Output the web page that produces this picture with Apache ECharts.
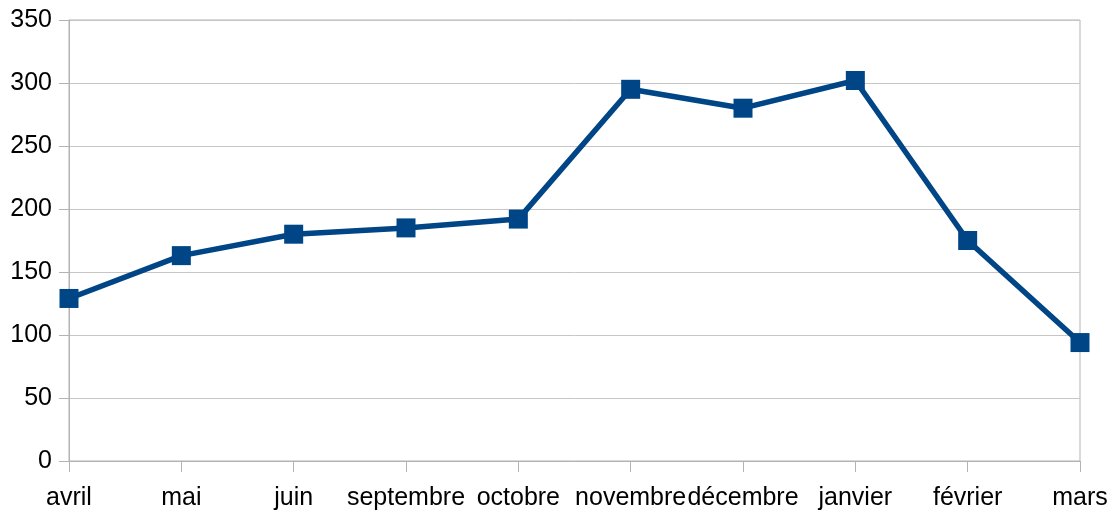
<!DOCTYPE html>
<html>
<head>
<meta charset="utf-8">
<script src="https://cdn.jsdelivr.net/npm/echarts@6/dist/echarts.min.js"></script>
<style>
    html, body { margin: 0; padding: 0; background: #fff; }
    #chart { width: 1114px; height: 512px; }
</style>
</head>
<body>
<div id="chart"></div>
<script>
// mois et valeurs
var months = ['avril', 'mai', 'juin', 'septembre', 'octobre', 'novembre', 'décembre', 'janvier', 'février', 'mars'];
var values = [129, 163, 180, 185, 192, 295, 280, 302, 175, 94];

var gridColor = '#b3b3b3';
var lineColor = '#004586';

let chart = echarts.init(document.getElementById('chart'));

let option = {
    animation: false,
    grid: {
        left: 69,
        right: 34,
        top: 20,
        bottom: 51,
        show: true,
        borderColor: gridColor,
        borderWidth: 1
    },
    xAxis: {
        type: 'category',
        data: months,
        boundaryGap: false,
        axisLine: { lineStyle: { color: gridColor, width: 1 } },
        axisTick: { show: true, length: 11, lineStyle: { color: gridColor } },
        axisLabel: {
            color: '#000',
            fontFamily: 'Liberation Sans',
            fontSize: 25,
            margin: 25,
            interval: 0
        },
        splitLine: { show: false }
    },
    yAxis: {
        type: 'value',
        min: 0,
        max: 350,
        interval: 50,
        axisLine: { show: true, lineStyle: { color: gridColor, width: 1 } },
        axisTick: { show: true, length: 10, lineStyle: { color: gridColor } },
        axisLabel: {
            color: '#000',
            fontFamily: 'Liberation Sans',
            fontSize: 25,
            margin: 17
        },
        splitLine: { lineStyle: { color: '#c6c6c6', width: 1 } }
    },
    series: [{
        type: 'line',
        data: values,
        symbol: 'rect',
        symbolSize: 19,
        lineStyle: { color: lineColor, width: 5.5 },
        itemStyle: { color: lineColor }
    }]
};

chart.setOption(option);
</script>
</body>
</html>
